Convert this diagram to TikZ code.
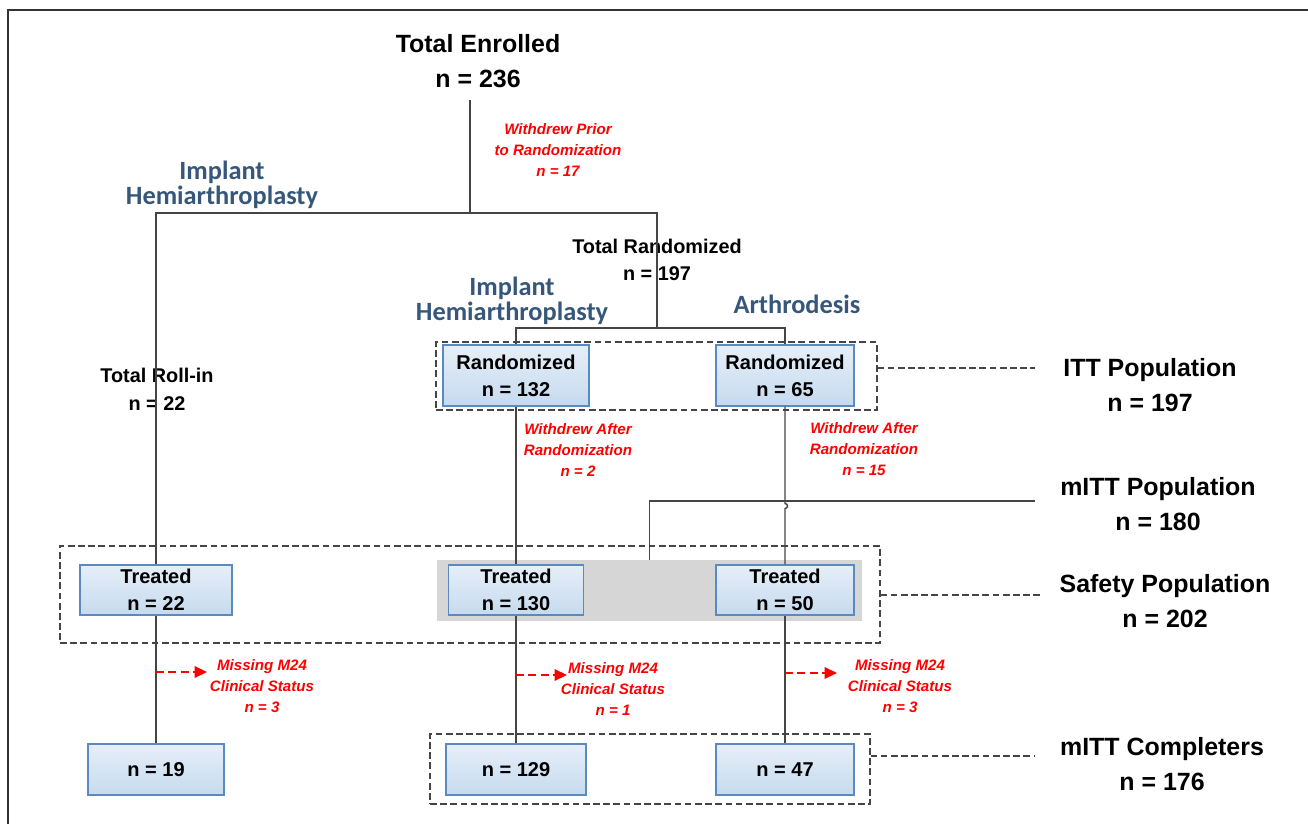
\documentclass[tikz,border=0pt]{standalone}
\usepackage{fontspec}
\setmainfont{Liberation Sans}
\newfontfamily\calib{Carlito}
\usepackage{xcolor}
\usepackage{tikz}
\usetikzlibrary{calc,arrows.meta}
\definecolor{boxtop}{HTML}{E6EFF8}
\definecolor{boxbot}{HTML}{C6DAEE}
\definecolor{boxline}{HTML}{5B8AC2}
\definecolor{armblue}{HTML}{36577A}
\definecolor{linegray}{HTML}{454545}

\begin{document}
\begin{tikzpicture}[x=0.02cm,y=-0.02cm,
  title/.style={align=center,inner sep=0pt,font=\fontsize{14.2}{19.5}\selectfont\bfseries},
  pop/.style={align=center,inner sep=0pt,font=\fontsize{14.2}{19.8}\selectfont\bfseries},
  sub/.style={align=center,inner sep=0pt,font=\fontsize{11.3}{15.8}\selectfont\bfseries},
  arm/.style={align=center,inner sep=0pt,text=armblue,font=\fontsize{15}{14.4}\selectfont\calib\bfseries},
  note/.style={align=center,inner sep=0pt,text=red,font=\fontsize{8.6}{12}\selectfont\bfseries\itshape},
  box/.style={draw=boxline,line width=0.8pt,top color=boxtop,bottom color=boxbot,inner sep=0pt,
    align=center,font=\fontsize{11.4}{15.3}\selectfont\bfseries},
  grp/.style={draw=linegray,line width=0.7pt,dash pattern=on 3.8pt off 2pt,inner sep=0pt},
  grpline/.style={draw=linegray,line width=0.7pt,dash pattern=on 3.8pt off 2pt},
  link/.style={draw=linegray,line width=0.8pt},
  miss/.style={draw=red,line width=0.9pt,dash pattern=on 4.5pt off 2.5pt,
    -{Triangle[length=7pt,width=6.5pt]}}]
  \useasboundingbox (0,0) rectangle (1308,824);
  \draw[line width=1.1pt,black!80] (8,824) -- (8,10) -- (1308,10);

  % top of the tree
  \node[title] (enr) at (478,61) {Total Enrolled\\n = 236};
  \coordinate (e0) at (470,100);
  \coordinate (j2) at (657,213);
  \coordinate (j3) at (657,328);
  \node[note] (wpr) at (558,150) {Withdrew Prior\\to Randomization\\n = 17};
  \node[arm] at (222,185) {Implant\\Hemiarthroplasty};
  \node[sub] (trand) at (657,260) {Total Randomized\\n = 197};
  \node[arm] at (512,301) {Implant\\Hemiarthroplasty};
  \node[arm] at (797,304) {Arthrodesis};
  \node[sub] (troll) at (157,389) {Total Roll-in\\n = 22};

  % groups
  \node[fill=gray!32,minimum width=8.5cm,minimum height=1.22cm,inner sep=0pt] (gray) at (649.5,590.5) {};
  \node[grp,minimum width=8.82cm,minimum height=1.36cm] (itt) at (656.5,376) {};
  \node[grp,minimum width=16.4cm,minimum height=1.94cm] (safe) at (470,594.5) {};
  \node[grp,minimum width=8.8cm,minimum height=1.4cm] (comp) at (650,769) {};

  % boxes
  \node[box,minimum width=2.92cm,minimum height=1.22cm] (rand1) at (516,375.5) {Randomized\\n = 132};
  \node[box,minimum width=2.76cm,minimum height=1.22cm] (rand2) at (785,375.5) {Randomized\\n = 65};
  \foreach \nm/\x/\w/\v in {tr1/156/3.04/22, tr2/516/2.7/130, tr3/785/2.76/50}
    \node[box,minimum width=\w cm,minimum height=1cm] (\nm) at (\x,590) {Treated\\n = \v};
  \foreach \nm/\x/\w/\v in {c1/156/2.72/19, c2/516/2.8/129, c3/785/2.76/47}
    \node[box,minimum width=\w cm,minimum height=1.02cm] (\nm) at (\x,769.5) {n = \v};

  % withdrawals
  \node[note] (wa1) at (578,450) {Withdrew After\\Randomization\\n = 2};
  \node[note] (wa2) at (864,449) {Withdrew After\\Randomization\\n = 15};
  \foreach \nm/\x/\y/\v in {m1/262/686/3, m2/613/689/1, m3/900/686/3}
    \node[note] (\nm) at (\x,\y) {Missing M24\\Clinical Status\\n = \v};
  \coordinate (a1) at (207,672);
  \coordinate (a2) at (567,675);
  \coordinate (a3) at (837,673);

  % populations
  \node[pop] (ittlab) at (1150,385) {ITT Population\\n = 197};
  \node[pop] (mittlab) at (1158,504) {mITT Population\\n = 180};
  \node[pop] (safelab) at (1165,601) {Safety Population\\n = 202};
  \node[pop] (complab) at (1162,764) {mITT Completers\\n = 176};
  \coordinate (ittend) at (1035,368);
  \coordinate (mend) at (1035,501);
  \coordinate (safend) at (1040,595);
  \coordinate (compend) at (1035,756);

  % connectors
  \draw[link] (e0) -- (e0 |- j2);
  \draw[link] (tr1.north) |- (j2) -- (j3);
  \draw[link] (rand1.north) |- (j3) -| (rand2.north);
  \draw[link] (rand1.south) -- (tr2.north);
  \draw[link] (rand2.south) -- ($(rand2.south |- mend)+(0,2.5)$)
    arc[start angle=90,end angle=-90,radius=0.05cm] -- (tr3.north);
  \draw[link] (mend) -| (gray.north);
  \foreach \a/\b in {tr1/c1,tr2/c2,tr3/c3}
    \draw[link] (\a.south) -- (\b.north);
  \foreach \t/\a in {tr1/a1,tr2/a2,tr3/a3}
    \draw[miss] (\t.south |- \a) -- (\a);
  \draw[grpline] (itt.east |- ittend) -- (ittend);
  \draw[grpline] (safe.east |- safend) -- (safend);
  \draw[grpline] (comp.east |- compend) -- (compend);
\end{tikzpicture}
\end{document}
